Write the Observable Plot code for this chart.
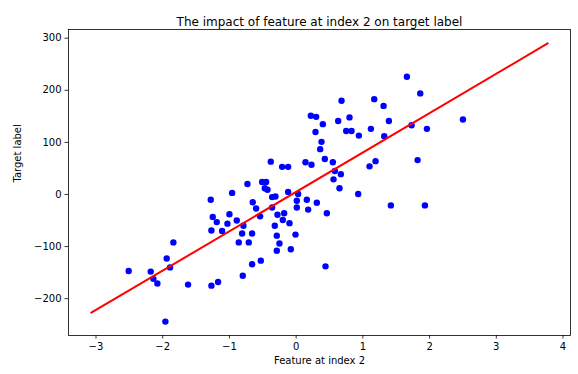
<!DOCTYPE html>
<html>
<head>
<meta charset="utf-8">
<script src="https://cdn.jsdelivr.net/npm/d3@7"></script>
<script src="https://cdn.jsdelivr.net/npm/@observablehq/plot@0.6"></script>
<style>
  html, body { margin: 0; padding: 0; background: #fff; }
  svg { font-family: "DejaVu Sans", sans-serif; }
</style>
</head>
<body>
<div id="chart"></div>
<script>
const titleText = "The impact of feature at index 2 on target label";
const xLabel = "Feature at index 2";
const yLabel = "Target label";

const featureX = [
  1.66, 1.86, 0.68, 1.17, 1.31, 0.22, 0.30, 0.40, 0.63, 0.80,
  1.39, 2.50, 0.29, 0.75, 0.83, 0.94, 1.12, 1.32, 1.73, 1.96,
  0.38, 0.36, 0.43, 0.55, 0.14, 0.23, 1.19, 1.10, 1.82, 0.58,
  0.67, 0.56, 0.65, 0.93, 0.31, 1.42, 1.93, 0.46, 0.16, 0.18,
  0.44, -0.38, -0.21, -0.12, -0.73, -0.51, -0.45, -0.47, -0.43, -0.96,
  -0.36, -0.31, -0.12, 0.03, 0.01, 0.01, -0.65, -0.60, -0.36, -0.54,
  -1.00, -0.28, -0.18, -0.20, -0.10, -0.89, -0.79, -0.32, -0.81, -0.66,
  -0.01, -0.29, -0.86, -0.71, -0.25, -0.29, -0.08, -0.66, -0.53, -0.80,
  -1.28, -1.25, -1.19, -1.03, -1.27, -1.11, -1.84, -1.94, -1.89, -2.51,
  -2.18, -2.14, -2.08, -1.62, -1.27, -1.17, -1.96
];
const targetY = [
  226, 194, 180, 183, 170, 151, 149, 135, 141, 148,
  141, 144, 120, 122, 122, 113, 126, 112, 133, 126,
  101, 87, 68, 62, 62, 57, 64, 54, 66, 45,
  39, 29, 12, 1, -16, -21, -21, -36, -10, -29,
  -138, 63, 53, 53, 20, 24, 24, 12, 9, 3,
  -5, -4, 5, 1, -12, -25, -15, -27, -25, -42,
  -38, -39, -36, -49, -55, -50, -60, -60, -75, -75,
  -77, -79, -92, -92, -94, -108, -105, -134, -127, -156,
  -10, -43, -53, -56, -69, -70, -92, -123, -140, -147,
  -148, -162, -171, -173, -175, -168, -244
];

const lineX = [-3.07, 3.77];
const lineY = [-227, 290];

const xTicks = [-3, -2, -1, 0, 1, 2, 3, 4];
const yTicks = [-200, -100, 0, 100, 200, 300];

const points = featureX.map((x, i) => ({x, y: targetY[i]}));
const linePts = lineX.map((x, i) => ({x, y: lineY[i]}));
const fmt = d => d < 0 ? "\u2212" + Math.abs(d) : String(d);

const chart = Plot.plot({
  width: 578,
  height: 374,
  marginLeft: 68,
  marginRight: 8,
  marginTop: 29,
  marginBottom: 39,
  style: {background: "#fff", color: "#000", fontFamily: "DejaVu Sans, sans-serif"},
  x: {domain: [-3.412, 4.112]},
  y: {domain: [-270.7, 316.7]},
  marks: [
    Plot.dot(points, {x: "x", y: "y", r: 3.2, fill: "#0000ff", stroke: "none"}),
    Plot.line(linePts, {x: "x", y: "y", stroke: "#ff0000", strokeWidth: 2}),
    Plot.frame({stroke: "#000", strokeWidth: 0.8}),
    Plot.axisX({ticks: xTicks, tickFormat: fmt, tickSize: 3.5, tickPadding: 3.5, fontSize: 10, label: null, stroke: "#000", strokeWidth: 0.8}),
    Plot.axisY({ticks: yTicks, tickFormat: fmt, tickSize: 3.5, tickPadding: 3.5, fontSize: 10, label: null, stroke: "#000", strokeWidth: 0.8}),
    Plot.text([titleText], {frameAnchor: "top", dy: -12, fontSize: 12, fill: "#000"}),
    Plot.text([xLabel], {frameAnchor: "bottom", dy: 28, fontSize: 10, fill: "#000"}),
    Plot.text([yLabel], {frameAnchor: "left", dx: -51, rotate: -90, fontSize: 10, fill: "#000"})
  ]
});
document.getElementById("chart").appendChild(chart);
</script>
</body>
</html>
